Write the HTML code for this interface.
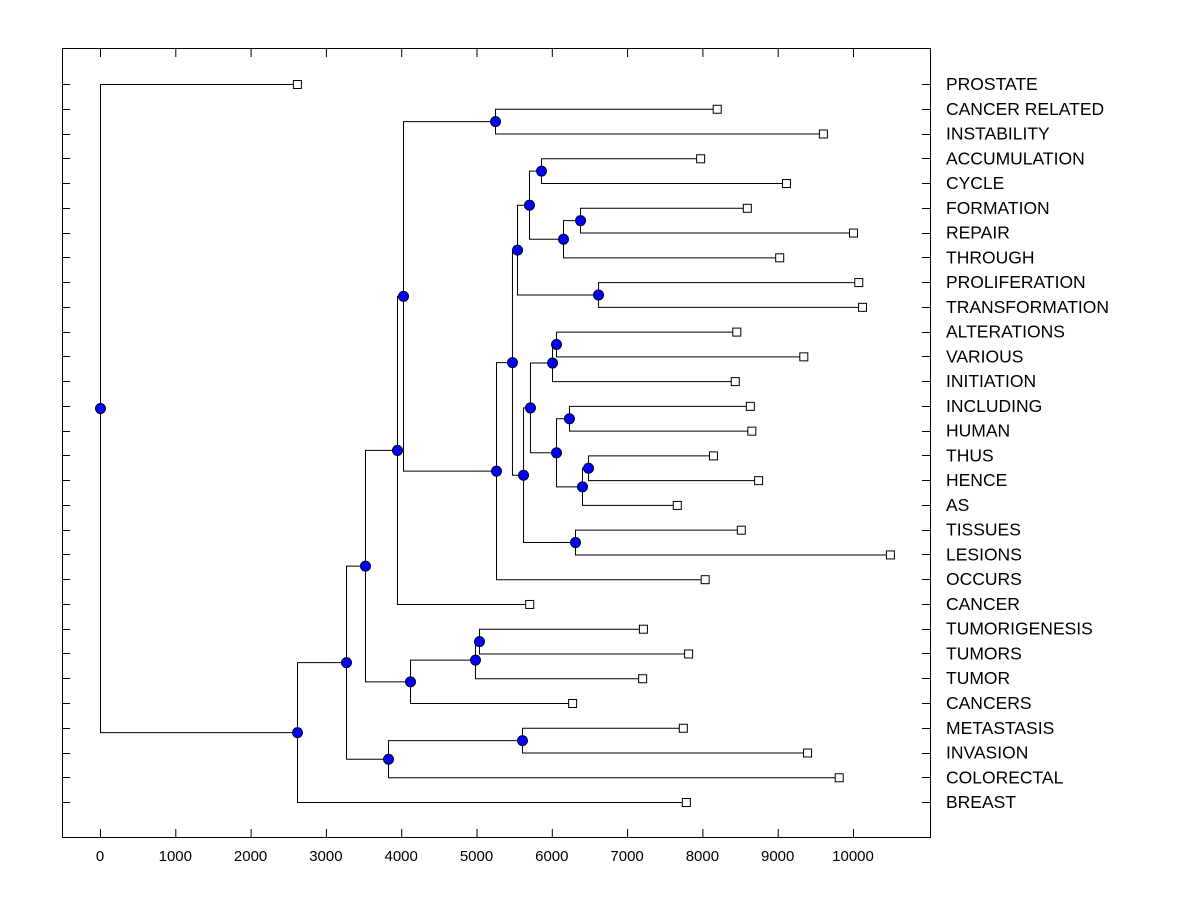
<!DOCTYPE html>
<html><head><meta charset="utf-8"><style>
body{margin:0;background:#fff}
svg text{font-family:"Liberation Sans",Arial,sans-serif}
</style></head><body>
<svg id="chart" width="1200" height="900" viewBox="0 0 1200 900" xmlns="http://www.w3.org/2000/svg">
<rect x="0" y="0" width="1200" height="900" fill="#fff"/>
<rect x="62.5" y="48.5" width="868" height="789" fill="none" stroke="#000" stroke-width="1"/>
<g id="g"></g>
</svg>
<script>
const labels=["PROSTATE","CANCER RELATED","INSTABILITY","ACCUMULATION","CYCLE","FORMATION","REPAIR","THROUGH","PROLIFERATION","TRANSFORMATION","ALTERATIONS","VARIOUS","INITIATION","INCLUDING","HUMAN","THUS","HENCE","AS","TISSUES","LESIONS","OCCURS","CANCER","TUMORIGENESIS","TUMORS","TUMOR","CANCERS","METASTASIS","INVASION","COLORECTAL","BREAST"];
const leafValues=[2615,8190,9600,7970,9110,8590,10000,9020,10070,10120,8450,9340,8430,8630,8650,8140,8740,7660,8510,10490,8030,5700,7210,7810,7200,6270,7740,9390,9810,7780];
// merges: [left, right, height]; leaves are "L<i>", nodes "N<j>"
const mergeLeft =["L1","L3","L5","N2","N1","L8","N4","L10","N7","L13","L15","N10","N9","N8","L18","N13","N6","N16","N0","N18","L22","N20","N21","N19","L26","N24","N23","N26","L0"];
const mergeRight=["L2","L4","L6","L7","N3","L9","N5","L11","L12","L14","L16","L17","N11","N12","L19","N14","N15","L20","N17","L21","L23","L24","L25","N22","L27","L28","N25","L29","N27"];
const mergeHeight=[5246,5857,6375,6149,5697,6614,5538,6056,6003,6228,6481,6401,6056,5710,6308,5618,5471,5259,4024,3944,5033,4980,4117,3519,5604,3825,3267,2616,0];
const xTicks=[0,1000,2000,3000,4000,5000,6000,7000,8000,9000,10000];
</script>
<script>
const NS="http://www.w3.org/2000/svg";
const g=document.getElementById('g');
const X=v=>100+v*0.0753;
const Y=i=>84+i*24.76;
function mk(t,a,p){const e=document.createElementNS(NS,t);for(const k in a)e.setAttribute(k,a[k]);(p||g).appendChild(e);return e;}
xTicks.forEach(v=>{
  const x=X(v)+0.5;
  const t1=mk('line',{x1:x,x2:x,y1:837,y2:829,stroke:'#000'});
  
  
  const t2=mk('line',{x1:x,x2:x,y1:49,y2:57,stroke:'#000'});
  
  
  const tx=mk('text',{x:X(v),y:861,'text-anchor':'middle','font-size':15});
  tx.textContent=v;
  
  
});
labels.forEach((l,i)=>{
  const y=Math.round(Y(i))+0.5;
  const a=mk('line',{x1:62,x2:70,y1:y,y2:y,stroke:'#000'});
  
  
  const b=mk('line',{x1:922,x2:930,y1:y,y2:y,stroke:'#000'});
  
  
  const t=mk('text',{x:946,y:Y(i)+6,'font-size':17.5});
  t.textContent=l;
  
  
});
const pos={};
leafValues.forEach((v,i)=>pos['L'+i]={x:X(v),y:Y(i)});
const nodes=[];
for(let j=0;j<mergeHeight.length;j++){
  const a=pos[mergeLeft[j]],b=pos[mergeRight[j]];
  const x=X(mergeHeight[j]);
  pos['N'+j]={x:x,y:(a.y+b.y)/2};
  const p=mk('path',{d:`M${a.x},${a.y+0.5}H${x+0.5}V${b.y+0.5}H${b.x}`,fill:'none',stroke:'#000','stroke-width':1});
  
  
  nodes.push(pos['N'+j]);
}
leafValues.forEach((v,i)=>{
  const p=pos['L'+i];
  const r=mk('rect',{x:p.x-3.5,y:p.y-3.5,width:8,height:8,fill:'#fff',stroke:'#000'});
  
  
});
nodes.forEach(p=>{
  const c=mk('circle',{cx:p.x+0.5,cy:p.y+0.5,r:5,fill:'#0000ff',stroke:'#000022','stroke-width':1});
  
  
});
</script>
</body></html>
